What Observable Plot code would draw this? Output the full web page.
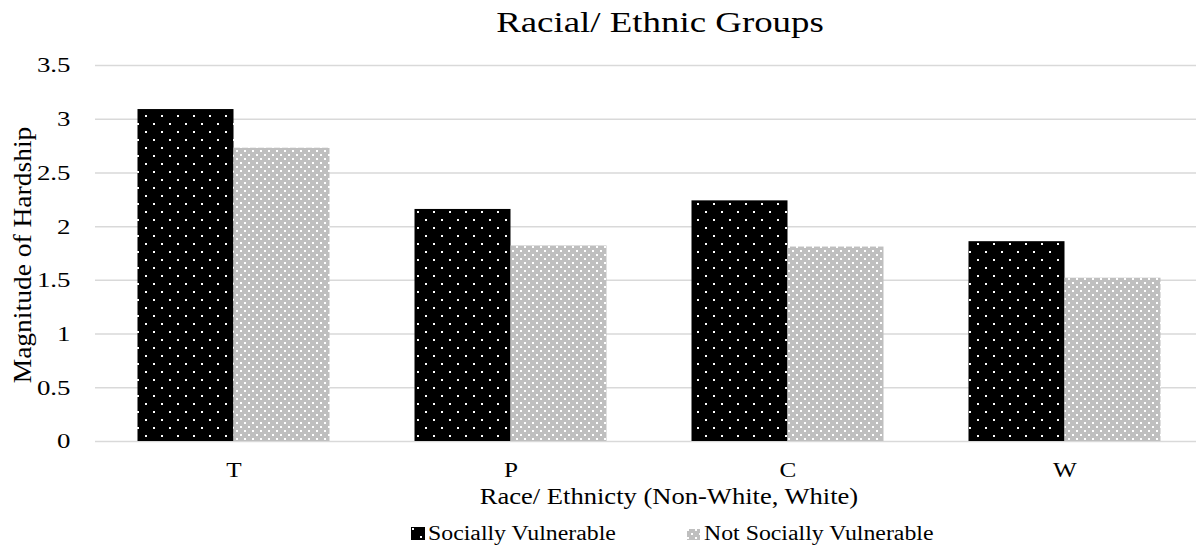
<!DOCTYPE html>
<html>
<head>
<meta charset="utf-8">
<script src="https://cdn.jsdelivr.net/npm/d3@7"></script>
<script src="https://cdn.jsdelivr.net/npm/@observablehq/plot@0.6"></script>
<style>
  html, body { margin: 0; padding: 0; background: #fff; }
  #wrap { position: relative; width: 1196px; height: 548px; font-family: "Liberation Serif", "Times New Roman", serif; color: #000; overflow: hidden; }
  .abs { position: absolute; white-space: nowrap; line-height: 1; }
  #chart { position: absolute; left: 0; top: 50px; }
</style>
</head>
<body>
<div id="wrap">
  <div class="abs" id="title" style="left:360px; width:600px; text-align:center; top:8px; font-size:29.5px; transform: scaleX(1.25); transform-origin: 300px 50%;">Racial/ Ethnic Groups</div>
  <div class="abs" id="ylabel" style="left:22px; top:255px; font-size:25px; transform: translate(-50%,-50%) rotate(-90deg) scaleX(1.1);">Magnitude of Hardship</div>
  <div id="chart"></div>
  <div class="abs" id="xlabel" style="left:369px; width:600px; text-align:center; top:486px; font-size:22.5px; transform: scaleX(1.18); transform-origin: 300px 50%;">Race/ Ethnicty (Non-White, White)</div>
  <div id="legend"></div>
</div>
<script>
// ---- data ----
const categories = ["T", "P", "C", "W"];
const seriesNames = ["Socially Vulnerable", "Not Socially Vulnerable"];
const sociallyVulnerable = [3.09, 2.16, 2.24, 1.86];
const notSociallyVulnerable = [2.73, 1.82, 1.81, 1.52];
const yTicks = [0, 0.5, 1, 1.5, 2, 2.5, 3, 3.5];

const dataA = categories.map((c, i) => ({category: c, series: seriesNames[0], value: sociallyVulnerable[i]}));
const dataB = categories.map((c, i) => ({category: c, series: seriesNames[1], value: notSociallyVulnerable[i]}));

const patternDefs = (p) => `
  <pattern id="${p}Black" patternUnits="userSpaceOnUse" width="16" height="16" x="1" y="1">
    <rect width="16" height="16" fill="#000"/>
    <rect x="0" y="0" width="2" height="2" fill="#fff"/>
    <rect x="8" y="8" width="2" height="2" fill="#fff"/>
  </pattern>
  <pattern id="${p}Gray" patternUnits="userSpaceOnUse" width="8" height="8">
    <rect width="8" height="8" fill="#bfbfbf"/>
    <rect x="0" y="0" width="2" height="2" fill="#fff"/>
    <rect x="4" y="4" width="2" height="2" fill="#fff"/>
  </pattern>`;

const chart = Plot.plot({
  width: 1196,
  height: 455,
  marginTop: 15,
  marginBottom: 64,
  marginLeft: 95,
  marginRight: 0,
  style: {fontFamily: "'Liberation Serif', 'Times New Roman', serif", fontSize: "20px", color: "#000", background: "transparent", overflow: "visible"},
  x: {domain: categories, range: [94.5, 1202.5], padding: 0, label: null},
  y: {domain: [0, 3.5], label: null},
  marks: [
    Plot.gridY(yTicks, {stroke: "#d9d9d9", strokeOpacity: 1, strokeWidth: 1.5}),
    Plot.barY(dataA, {x: "category", y: "value", fill: "url(#patBlack)", insetLeft: 42.5, insetRight: 138.5}),
    Plot.barY(dataB, {x: "category", y: "value", fill: "url(#patGray)", insetLeft: 138.5, insetRight: 42.5}),
    Plot.axisY({ticks: yTicks, tickSize: 0, tickPadding: 25, tickFormat: d => String(d), fontSize: 21.5, label: null}),
    Plot.axisX({tickSize: 0, tickPadding: 21, fontSize: 21, label: null})
  ]
});
const defs = document.createElementNS("http://www.w3.org/2000/svg", "defs");
defs.innerHTML = patternDefs("pat");
chart.insertBefore(defs, chart.firstChild);

// widen tick label glyphs horizontally (reference type is horizontally stretched)
function widen(sel, s) {
  chart.querySelectorAll(sel).forEach(t => {
    const xa = t.getAttribute("x");
    const x = (xa !== null && isFinite(+xa)) ? +xa : 0;
    const tr = t.getAttribute("transform") || "";
    t.setAttribute("transform", `${tr} translate(${x},0) scale(${s},1) translate(${-x},0)`.trim());
  });
}
widen('g[aria-label="y-axis tick label"] text', 1.25);
widen('g[aria-label="x-axis tick label"] text', 1.2);
document.getElementById("chart").appendChild(chart);

// legend
const legend = document.getElementById("legend");
const items = [
  {name: seriesNames[0], pat: "Black", sx: 411, sy: 527, sw: 14, sh: 13, tx: 428},
  {name: seriesNames[1], pat: "Gray", sx: 687, sy: 529, sw: 13, sh: 11, tx: 704}
];
items.forEach((it, i) => {
  const sw = document.createElement("div");
  sw.className = "abs";
  sw.style.left = it.sx + "px"; sw.style.top = it.sy + "px";
  const p = "lg" + i;
  sw.innerHTML = `<svg width="${it.sw}" height="${it.sh}" style="display:block"><defs>${patternDefs(p)}</defs><rect width="${it.sw}" height="${it.sh}" fill="url(#${p}${it.pat})"/></svg>`;
  legend.appendChild(sw);
  const t = document.createElement("div");
  t.className = "abs";
  t.style.left = it.tx + "px"; t.style.top = "523px"; t.style.fontSize = "20px";
  t.style.transform = "scaleX(1.19)"; t.style.transformOrigin = "0 50%";
  t.textContent = it.name;
  legend.appendChild(t);
});
</script>
</body>
</html>
